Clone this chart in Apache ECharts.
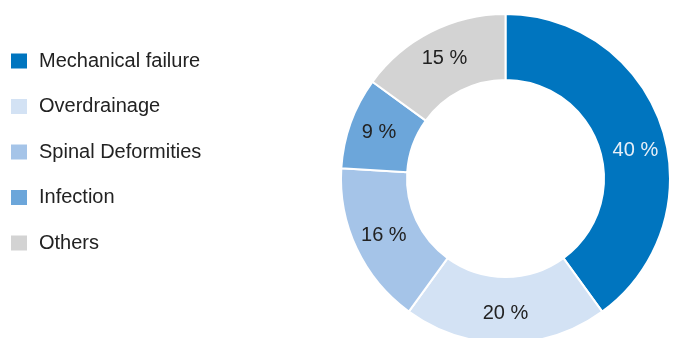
<!DOCTYPE html>
<html>
<head>
<meta charset="utf-8">
<script src="https://cdn.jsdelivr.net/npm/echarts@6/dist/echarts.min.js"></script>
<style>
html,body{margin:0;padding:0;background:#fff;}
#chart{width:677px;height:338px;}
</style>
</head>
<body>
<div id="chart"></div>
<script>
const categories = ['Mechanical failure', 'Overdrainage', 'Spinal Deformities', 'Infection', 'Others'];
const values = [40, 20, 16, 9, 15];
const colors = ['#0075bf', '#d3e2f4', '#a5c4e8', '#6ca6da', '#d3d3d3'];
const labelColors = ['#e8f0f8', '#222222', '#222222', '#222222', '#222222'];

const FONT = '"Liberation Sans", Arial, sans-serif';
const chart = echarts.init(document.getElementById('chart'), null, {renderer: 'canvas'});

const data = categories.map((name, i) => {
  const item = {
    name: name,
    value: values[i],
    itemStyle: { color: colors[i] },
    label: { color: labelColors[i] }
  };
  if (i === 0) item.label.offset = [2, 14];
  return item;
});

chart.setOption({
  animation: false,
  backgroundColor: '#ffffff',
  legend: {
    orient: 'vertical',
    left: 4,
    top: 46,
    itemWidth: 18,
    itemHeight: 17,
    itemGap: 25.5,
    icon: 'rect',
    data: categories,
    textStyle: {
      fontFamily: FONT,
      fontSize: 20,
      color: '#222222',
      padding: [0, 0, 0, 6],
      lineHeight: 17
    }
  },
  series: [{
    type: 'pie',
    center: [505.5, 178.5],
    radius: [98.5, 164.5],
    startAngle: 90,
    clockwise: true,
    avoidLabelOverlap: false,
    silent: true,
    itemStyle: { borderColor: '#ffffff', borderWidth: 2 },
    label: {
      show: true,
      position: 'inside',
      formatter: p => p.value + ' %',
      fontFamily: FONT,
      fontSize: 20
    },
    labelLine: { show: false },
    data: data
  }]
});
</script>
</body>
</html>
